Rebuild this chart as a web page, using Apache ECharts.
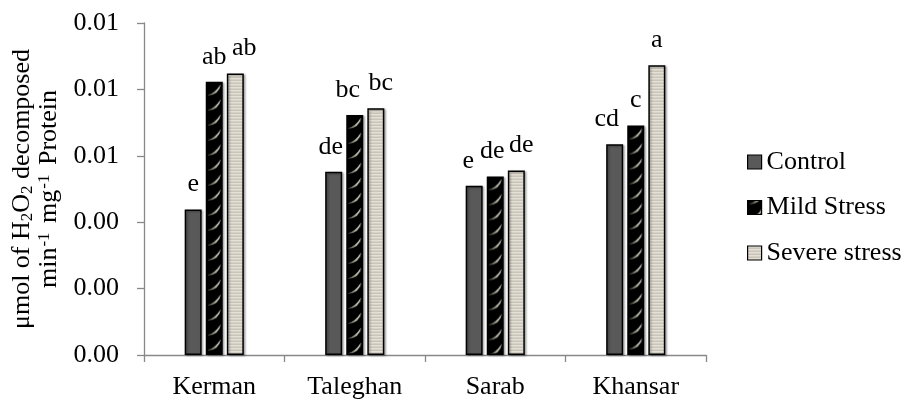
<!DOCTYPE html>
<html>
<head>
<meta charset="utf-8">
<script src="https://cdn.jsdelivr.net/npm/echarts@6/dist/echarts.min.js"></script>
<style>
  html, body { margin: 0; padding: 0; background: #ffffff; }
  #chart { width: 906px; height: 400px; }
</style>
</head>
<body>
<div id="chart"></div>
<script>
// Cultivars on the category axis
const categories = ['Kerman', 'Taleghan', 'Sarab', 'Khansar'];
const seriesNames = ['Control', 'Mild Stress', 'Severe stress'];

// Catalase activity (µmol H2O2 decomposed per min per mg protein)
const controlValues = [0.00438, 0.00552, 0.00510, 0.00635];
const mildValues    = [0.00823, 0.00723, 0.00538, 0.00691];
const severeValues  = [0.00848, 0.00743, 0.00556, 0.00873];

// Duncan grouping letters shown above each bar
const controlLetters = ['e', 'de', 'e', 'cd'];
const mildLetters    = ['ab', 'bc', 'de', 'c'];
const severeLetters  = ['ab', 'bc', 'de', 'a'];

// Value axis range and step
const yMin = 0;
const yMax = 0.01;
const yStep = 0.002;

// Sideways nudges (px) that keep neighbouring letter labels from colliding
const controlLabelShift = [0, -3, -6, -8];
const mildLabelShift    = [0, -7, -3, 0];
const severeLabelShift  = [9, 5, 5, 0];

const FONT = '"Liberation Serif", "Times New Roman", serif';

// Black tile with a light diagonal streak (mild stress fill)
function mildTile() {
  const c = document.createElement('canvas');
  c.width = 17; c.height = 15;
  const g = c.getContext('2d');
  g.fillStyle = '#000000';
  g.fillRect(0, 0, 17, 15);
  const grad = g.createLinearGradient(2, 13, 15, 3);
  grad.addColorStop(0, '#3c3c32');
  grad.addColorStop(0.5, '#b4b4a4');
  grad.addColorStop(1, '#f6f6ee');
  g.fillStyle = grad;
  g.beginPath();
  g.moveTo(2, 13);
  g.quadraticCurveTo(9, 11.5, 15, 2.5);
  g.quadraticCurveTo(13, 13, 2, 14);
  g.closePath();
  g.fill();
  return c;
}

// Beige tile with fine horizontal lines (severe stress fill)
function severeTile() {
  const c = document.createElement('canvas');
  c.width = 4; c.height = 3;
  const g = c.getContext('2d');
  const rows = ['#e5e0d6', '#d6d1c6', '#cac5b9'];
  rows.forEach((col, i) => { g.fillStyle = col; g.fillRect(0, i, 4, 1); });
  return c;
}

const mildCanvas = mildTile();
const severeCanvas = severeTile();

const barBorder = {
  borderColor: '#000000',
  borderWidth: 1.5,
  shadowColor: 'rgba(0,0,0,0.3)',
  shadowBlur: 2,
  shadowOffsetX: 1.5,
  shadowOffsetY: 1
};

function barSeries(name, values, letters, shifts, color) {
  return {
    name: name,
    type: 'bar',
    barWidth: 17,
    barGap: '24%',
    data: values.map((v, i) => ({ value: v, label: { offset: [shifts[i], 0] } })),
    itemStyle: Object.assign({ color: color }, barBorder),
    label: {
      show: true,
      position: 'top',
      distance: 12,
      fontFamily: FONT,
      fontSize: 26,
      color: '#000000',
      formatter: p => letters[p.dataIndex]
    },
    emphasis: { disabled: true }
  };
}

const chart = echarts.init(document.getElementById('chart'), null, { renderer: 'canvas' });

const option = {
  animation: false,
  backgroundColor: '#ffffff',
  textStyle: { fontFamily: FONT },
  grid: { left: 144, right: 200, top: 23, bottom: 44, containLabel: false },
  legend: {
    orient: 'vertical',
    left: 742,
    top: 144,
    icon: 'rect',
    itemWidth: 14,
    itemHeight: 14,
    itemGap: 19.5,
    textStyle: { fontFamily: FONT, fontSize: 26, color: '#000000', lineHeight: 26 },
    itemStyle: { borderColor: '#000000', borderWidth: 1.2 },
    data: [
      { name: seriesNames[0] },
      { name: seriesNames[1], itemStyle: { color: { image: mildCanvas, repeat: 'repeat', x: 748, y: 155 } } },
      { name: seriesNames[2] }
    ],
    selectedMode: false
  },
  xAxis: {
    type: 'category',
    data: categories,
    boundaryGap: true,
    axisLine: { lineStyle: { color: '#898989', width: 1.3 } },
    axisTick: { show: true, length: 7, inside: false, lineStyle: { color: '#898989', width: 1.3 } },
    axisLabel: { fontFamily: FONT, fontSize: 26, color: '#000000', margin: 19 },
    splitLine: { show: false }
  },
  yAxis: {
    type: 'value',
    min: yMin,
    max: yMax,
    interval: yStep,
    axisLine: { show: true, lineStyle: { color: '#898989', width: 1.3 } },
    axisTick: { show: true, length: 7, inside: false, lineStyle: { color: '#898989', width: 1.3 } },
    axisLabel: {
      fontFamily: FONT, fontSize: 26, color: '#000000', margin: 25,
      formatter: v => v.toFixed(2)
    },
    splitLine: { show: false },
    name: 'μmol of H{sub|2}O{sub|2} decomposed\nmin{sup|-1} mg{sup|-1} Protein',
    nameLocation: 'middle',
    nameRotate: 90,
    nameGap: 76,
    nameTextStyle: {
      fontFamily: FONT, fontSize: 26, color: '#000000', lineHeight: 27, align: 'center',
      rich: {
        sub: { fontFamily: FONT, fontSize: 17, color: '#000000', lineHeight: 12, verticalAlign: 'bottom' },
        sup: { fontFamily: FONT, fontSize: 17, color: '#000000', lineHeight: 12, verticalAlign: 'top', padding: [0, 3, 0, 1] }
      }
    }
  },
  series: [
    barSeries(seriesNames[0], controlValues, controlLetters, controlLabelShift, '#595959'),
    barSeries(seriesNames[1], mildValues, mildLetters, mildLabelShift, { image: mildCanvas, repeat: 'repeat' }),
    barSeries(seriesNames[2], severeValues, severeLetters, severeLabelShift, { image: severeCanvas, repeat: 'repeat' })
  ]
};

chart.setOption(option);

// Anchor the streak texture to each mild-stress bar so the pattern starts at the bar's left/top edge
const mildData = chart.getModel().getSeriesByIndex(1).getData();
const mildItems = mildValues.map((v, i) => {
  const l = mildData.getItemLayout(i);
  return {
    value: v,
    label: { offset: [mildLabelShift[i], 0] },
    itemStyle: { color: { image: mildCanvas, repeat: 'repeat', x: l.x, y: l.y + l.height } }
  };
});
chart.setOption({ series: [{}, { data: mildItems }, {}] });
</script>
</body>
</html>
